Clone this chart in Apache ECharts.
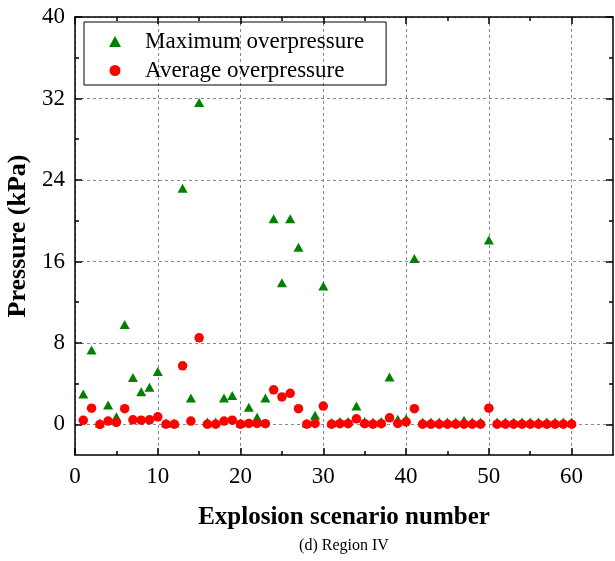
<!DOCTYPE html>
<html>
<head>
<meta charset="utf-8">
<script src="https://cdn.jsdelivr.net/npm/echarts@6/dist/echarts.min.js"></script>
<style>
  html, body { margin: 0; padding: 0; background: #fff; }
  #chart { width: 615px; height: 561px; }
</style>
</head>
<body>
<div id="chart"></div>
<script>
// scenario numbers
const scenarios = [1, 2, 3, 4, 5, 6, 7, 8, 9, 10, 11, 12, 13, 14, 15, 16, 17, 18, 19, 20,
  21, 22, 23, 24, 25, 26, 27, 28, 29, 30, 31, 32, 33, 34, 35, 36, 37, 38, 39, 40,
  41, 42, 43, 44, 45, 46, 47, 48, 49, 50, 51, 52, 53, 54, 55, 56, 57, 58, 59, 60];

// maximum overpressure (kPa)
const maxPressure = [3.0, 7.3, 0.15, 1.9, 0.75, 9.8, 4.6, 3.2, 3.65, 5.2,
  0.15, 0.15, 23.2, 2.6, 31.6, 0.25, 0.25, 2.6, 2.85, 0.15,
  1.7, 0.7, 2.6, 20.2, 13.9, 20.2, 17.4, 0.15, 0.9, 13.6,
  0.2, 0.3, 0.3, 1.8, 0.3, 0.25, 0.3, 4.65, 0.5, 0.55,
  16.3, 0.25, 0.25, 0.25, 0.25, 0.25, 0.4, 0.25, 0.25, 18.1,
  0.25, 0.25, 0.25, 0.25, 0.25, 0.25, 0.25, 0.25, 0.25, 0.25];

// average overpressure (kPa)
const avgPressure = [0.4, 1.6, 0.0, 0.33, 0.2, 1.55, 0.45, 0.42, 0.45, 0.75,
  0.03, 0.03, 5.75, 0.33, 8.5, 0.03, 0.03, 0.33, 0.42, 0.03,
  0.1, 0.1, 0.07, 3.4, 2.7, 3.05, 1.55, 0.03, 0.1, 1.8,
  0.03, 0.07, 0.07, 0.55, 0.07, 0.03, 0.07, 0.65, 0.1, 0.25,
  1.55, 0.03, 0.03, 0.03, 0.03, 0.03, 0.03, 0.03, 0.03, 1.6,
  0.03, 0.03, 0.03, 0.03, 0.03, 0.03, 0.03, 0.03, 0.03, 0.03];

// ticks
const xMajor = [0, 10, 20, 30, 40, 50, 60];
const xMinor = [5, 15, 25, 35, 45, 55];
const yMajor = [0, 8, 16, 24, 32, 40];
const yMinor = [4, 12, 20, 28, 36];

const serif = "'Liberation Serif', 'Times New Roman', serif";
const black = "#000";

// one axis of the frame; minor ticks get their own overlaid axis
function axis(dim, pos, ticks, len, opts) {
  let a = {
    type: "value",
    position: pos,
    min: dim === "x" ? 0 : -3,
    max: dim === "x" ? 65 : 40,
    axisLine: {show: false, onZero: false, lineStyle: {color: black, width: 1.5}},
    axisTick: {show: true, inside: true, length: len, customValues: ticks, lineStyle: {color: black, width: 1.5}},
    axisLabel: {show: false},
    splitLine: {show: false}
  };
  return Object.assign(a, opts || {});
}

const frameLine = {show: true, onZero: false, lineStyle: {color: black, width: 1.5}};
const gridLine = {show: true, lineStyle: {color: "#888", type: [3, 3], width: 1}};

let chart = echarts.init(document.getElementById("chart"), null, {renderer: "canvas"});

chart.setOption({
  animation: false,
  textStyle: {fontFamily: serif},
  grid: {left: 75, top: 17, right: 2, bottom: 106, containLabel: false, outerBoundsMode: "none"},
  legend: {
    left: 84, top: 22, orient: "vertical",
    padding: [8, 22, 3, 25], itemGap: 6,
    itemWidth: 12, itemHeight: 11,
    borderColor: black, borderWidth: 1,
    textStyle: {fontFamily: serif, fontSize: 23, color: black, padding: [0, 0, 0, 19]},
    data: [
      {name: "Maximum overpressure", icon: "triangle"},
      {name: "Average overpressure", icon: "circle"}
    ]
  },
  xAxis: [
    axis("x", "bottom", xMajor, 7, {
      axisLine: frameLine,
      axisLabel: {show: true, customValues: xMajor, margin: 10, fontSize: 23, color: black, fontFamily: serif},
      splitLine: gridLine,
      name: "Explosion scenario number", nameLocation: "middle", nameGap: 50,
      nameTextStyle: {fontSize: 25, fontWeight: "bold", color: black, fontFamily: serif}
    }),
    axis("x", "bottom", xMinor, 4),
    axis("x", "top", xMajor, 7, {axisLine: frameLine}),
    axis("x", "top", xMinor, 4)
  ],
  yAxis: [
    axis("y", "left", yMajor, 7, {
      axisLine: frameLine,
      axisLabel: {show: true, customValues: yMajor, margin: 10, fontSize: 23, color: black, fontFamily: serif},
      splitLine: gridLine,
      name: "Pressure (kPa)", nameLocation: "middle", nameGap: 44,
      nameTextStyle: {fontSize: 26, fontWeight: "bold", color: black, fontFamily: serif}
    }),
    axis("y", "left", yMinor, 4),
    axis("y", "right", yMajor, 7, {axisLine: frameLine}),
    axis("y", "right", yMinor, 4)
  ],
  graphic: [{
    type: "text",
    style: {x: 344, y: 546, text: "(d) Region IV", align: "center", verticalAlign: "middle",
      font: "16px " + serif, fill: black}
  }],
  series: [
    {
      name: "Maximum overpressure",
      type: "scatter",
      symbol: "triangle",
      symbolSize: [10, 9],
      itemStyle: {color: "#008000", opacity: 1},
      data: scenarios.map((s, i) => [s, maxPressure[i]])
    },
    {
      name: "Average overpressure",
      type: "scatter",
      symbol: "circle",
      symbolSize: 9.5,
      itemStyle: {color: "#ff0000", opacity: 1},
      data: scenarios.map((s, i) => [s, avgPressure[i]])
    }
  ]
});
</script>
</body>
</html>
